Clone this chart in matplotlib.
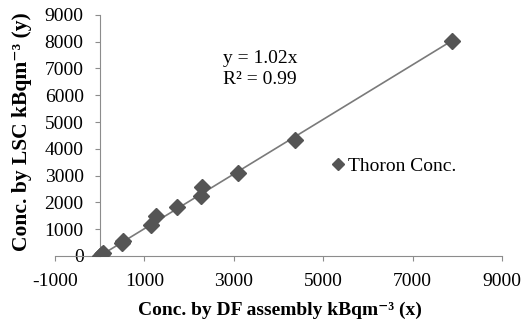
import matplotlib
matplotlib.use("Agg")
import matplotlib.pyplot as plt
import numpy as np

plt.rcParams["font.family"] = ["Liberation Serif", "DejaVu Serif"]
plt.rcParams["axes.unicode_minus"] = False

# data
df_conc = [0, 40, 80, 490, 530, 1150, 1260, 1730, 2270, 2290, 3100, 4360, 7890]
lsc_conc = [0, 60, 100, 490, 570, 1160, 1490, 1830, 2240, 2580, 3080, 4330, 8020]
slope = 1.02
r_squared = 0.99
x_ticks = [-1000, 1000, 3000, 5000, 7000, 9000]
y_ticks = list(range(0, 10000, 1000))

fig = plt.figure(figsize=(5.21, 3.21), dpi=100)
ax = fig.add_axes([0.1056, 0.2025, 0.858, 0.751])

line_x = np.array([min(df_conc), max(df_conc)])
ax.plot(line_x, slope * line_x, color="#7a7a7a", linewidth=1.2, zorder=2)

ax.plot(
    df_conc,
    lsc_conc,
    linestyle="none",
    marker="D",
    markersize=8,
    color="#555555",
    zorder=3,
)

ax.set_xlim(-1000, 9000)
ax.set_ylim(0, 9000)
ax.set_xticks(x_ticks)
ax.set_yticks(y_ticks)

ax.spines["top"].set_visible(False)
ax.spines["right"].set_visible(False)
ax.spines["left"].set_position(("data", 0))
for side in ["left", "bottom"]:
    ax.spines[side].set_color("#8c8c8c")
ax.tick_params(colors="#8c8c8c", labelcolor="black", labelsize=14, length=3.5)
ax.tick_params(axis="x", pad=9)
ax.tick_params(axis="y", pad=8)

fig.text(
    0.538, 0.034,
    "Conc. by DF assembly kBqm\u207b\u00b3 (x)",
    fontsize=14, fontweight="bold", ha="center", va="center",
)
fig.text(
    0.042, 0.589,
    "Conc. by LSC kBqm\u207b\u00b3 (y)",
    rotation=90, fontsize=15.5, fontweight="bold", ha="center", va="center",
)

fig.text(0.428, 0.819, "y = %.2fx" % slope, fontsize=14, va="center")
fig.text(0.428, 0.751, "R\u00b2 = %.2f" % r_squared, fontsize=14, va="center")

# legend entry
ax.plot([], [], linestyle="none", marker="D", markersize=6, color="#555555",
        label="Thoron Conc.")
ax.legend(
    loc="center left",
    bbox_to_anchor=(0.62, 0.372),
    frameon=False,
    fontsize=14,
    handlelength=0.6,
    handletextpad=0.2,
    borderaxespad=0,
    borderpad=0,
)

fig.savefig("out.png", dpi=100)
